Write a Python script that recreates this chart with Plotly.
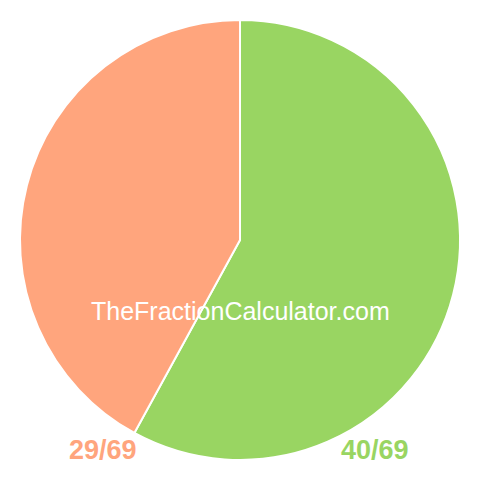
import plotly.graph_objects as go

labels = ["40/69", "29/69"]
values = [40, 29]
colors = ["#99d562", "#ffa57d"]

W = H = 480
FONT = "Liberation Sans, Arial, sans-serif"

fig = go.Figure(go.Pie(
    labels=labels,
    values=values,
    sort=False,
    direction="clockwise",
    rotation=0,
    marker=dict(colors=colors, line=dict(color="white", width=2)),
    textinfo="none",
    hoverinfo="label",
    domain=dict(x=[20 / W, 460 / W], y=[20 / H, 460 / H]),
))

# fraction labels under the pie, coloured like their slices
for label, color, px_x in [(labels[1], colors[1], 103), (labels[0], colors[0], 375)]:
    fig.add_annotation(x=px_x / W, y=1 - 450 / H, xref="paper", yref="paper",
                       xanchor="center", yanchor="middle",
                       text="<b>" + label + "</b>", showarrow=False,
                       font=dict(family=FONT, size=27, color=color))

# watermark
fig.add_annotation(x=240 / W, y=1 - 311 / H, xref="paper", yref="paper",
                   xanchor="center", yanchor="middle",
                   text="TheFractionCalculator.com", showarrow=False,
                   font=dict(family=FONT, size=25, color="white"))

fig.update_layout(
    width=W, height=H,
    margin=dict(l=0, r=0, t=0, b=0),
    showlegend=False,
    paper_bgcolor="white",
    plot_bgcolor="white",
)

fig.write_html("out.html", config={"displayModeBar": False},
               post_script="document.body.style.margin='0';")
